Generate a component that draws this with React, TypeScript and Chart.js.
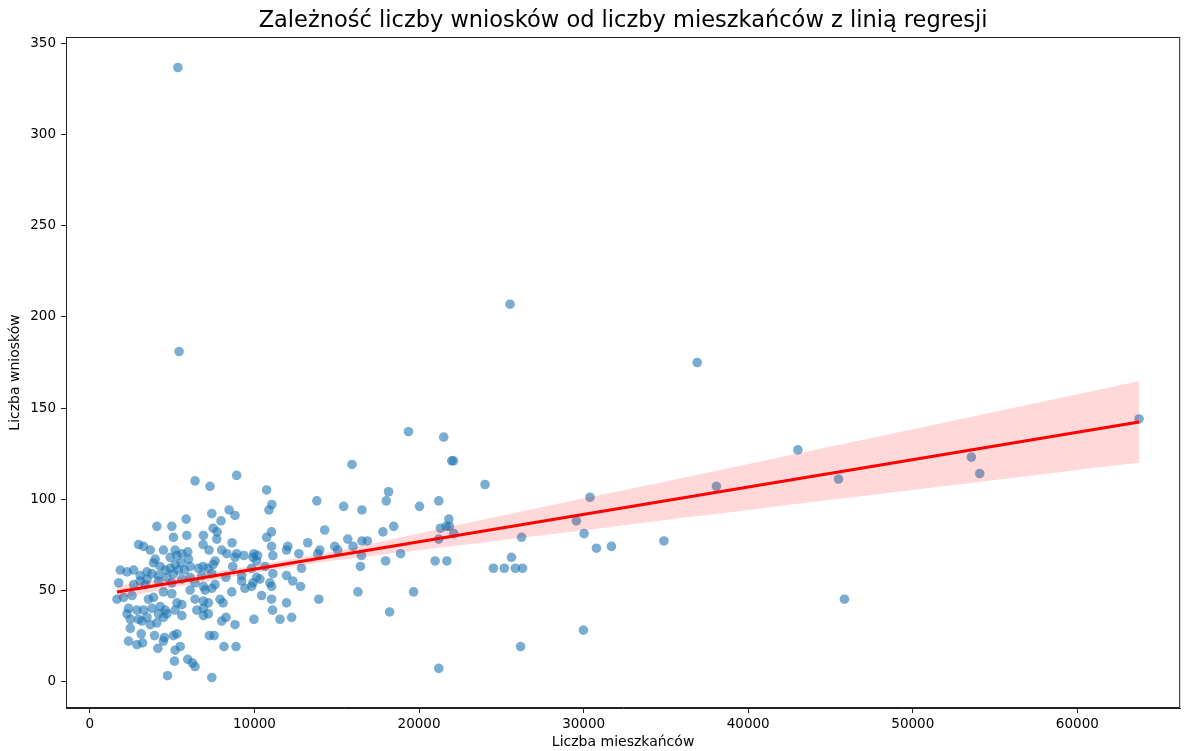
import { useEffect, useRef } from "react";
import { Chart, registerables } from "chart.js";

Chart.register(...registerables);

const titleText = "Zależność liczby wniosków od liczby mieszkańców z linią regresji";
const xAxisLabel = "Liczba mieszkańców";
const yAxisLabel = "Liczba wniosków";

const xTicks = [0, 10000, 20000, 30000, 40000, 50000, 60000];
const yTicks = [0, 50, 100, 150, 200, 250, 300, 350];

// population (x) of each municipality
const populationX = [
  5850, 4070, 4980, 5080, 5890, 6900, 2960, 3260, 3670, 4470, 5180, 5950, 6880, 3970, 3870, 4880,
  5290, 5590, 5990, 5550, 5180, 4270, 3470, 3060, 3770, 4170, 4580, 4880, 5080, 5380, 5750, 6090,
  6590, 1850, 2260, 2660, 1750, 3060, 3470, 4170, 4680, 4980, 5590, 6090, 6390, 6800, 2660, 3360,
  6900, 1650, 2050, 2560, 3560, 3870, 4470, 4980, 6090, 6390, 6900, 5290, 2350, 2860, 3260, 3770,
  4270, 4580, 5180, 5590, 6500, 6900, 2460, 2960, 3470, 4170, 4470, 4680, 5590, 2260, 3160, 3670,
  4070, 2460, 3120, 3930, 4530, 5080, 5290, 2350, 2860, 3200, 4470, 4130, 5180, 5490, 5140, 5950,
  6230, 6390, 4720, 7300, 7410, 7490, 7730, 7710, 7240, 7610, 7490, 6880, 7180, 7410, 7000, 7410,
  7610, 7910, 7200, 6900, 7200, 7260, 7550, 7410, 8010, 8270, 8920, 10740, 11060, 10880, 13790, 15420,
  8460, 8820, 7970, 14270, 11040, 10740, 8640, 13240, 15670, 11040, 12030, 11950, 12700, 13970, 14880, 15060,
  11120, 9970, 9360, 8920, 8820, 8320, 8010, 10190, 10130, 9910, 13850, 12860, 10640, 9830, 9220, 8680,
  8270, 11120, 10130, 10330, 11950, 12330, 9910, 9220, 9420, 9830, 10940, 11040, 12800, 10440, 11040, 11950,
  13910, 8620, 8090, 11100, 11550, 12260, 9970, 8820, 8150, 8880, 19360, 21500, 15930, 21990, 22090, 24010,
  18150, 18010, 21200, 16530, 20030, 18460, 17810, 21810, 21300, 21650, 21850, 22110, 21200, 16530, 16860, 15990,
  16500, 18880, 16440, 17970, 20980, 21690, 24520, 16290, 19670, 18210, 21200, 25530, 30390, 29560, 26230, 30030,
  30780, 31690, 34880, 25620, 25180, 25850, 26290, 29990, 26170, 36900, 38070, 43020, 45490, 45850, 53560, 54070,
  63750, 5350, 5420, 6390,
];

// number of applications (y) of each municipality
const applicationsY = [
  89, 85, 85, 79, 80, 80, 75, 74, 72, 72, 72, 71, 75, 67, 65, 68,
  69, 70, 67, 65, 64, 63, 60, 58, 59, 58, 61, 62, 59, 61, 61, 63,
  62, 61, 60, 61, 54, 55, 56, 55, 57, 54, 56, 57, 54, 58, 53, 53,
  52, 45, 46, 47, 45, 46, 49, 48, 50, 45, 44, 43, 40, 39, 39, 40,
  41, 39, 39, 42, 39, 36, 34, 34, 35, 37, 35, 37, 36, 37, 33, 31,
  32, 29, 26, 25, 24, 25, 26, 22, 20, 21, 22, 18, 17, 19, 11, 12,
  10, 8, 3, 107, 92, 84, 82, 78, 72, 66, 64, 63, 62, 59, 50, 51,
  53, 45, 43, 40, 37, 25, 25, 2, 33, 35, 113, 105, 97, 94, 99, 96,
  94, 91, 88, 83, 82, 79, 76, 76, 78, 74, 74, 72, 70, 72, 74, 72,
  69, 70, 69, 70, 68, 70, 72, 69, 66, 68, 70, 62, 63, 62, 58, 63,
  57, 59, 57, 56, 58, 55, 54, 55, 51, 52, 54, 52, 52, 47, 45, 43,
  45, 49, 43, 39, 34, 35, 34, 31, 19, 19, 137, 134, 119, 121, 121, 108,
  104, 99, 99, 94, 96, 85, 82, 89, 84, 85, 85, 81, 78, 77, 77, 74,
  69, 70, 63, 66, 66, 66, 62, 49, 49, 38, 7, 207, 101, 88, 79, 81,
  73, 74, 77, 68, 62, 62, 62, 28, 19, 175, 107, 127, 111, 45, 123, 114,
  144, 337, 181, 110,
];

// regression line end points
const lineX = [1650, 63750];
const lineY = [48.9, 142.3];

// confidence band
const bandX = [1650, 5000, 10000, 15000, 20000, 25000, 30000, 35000, 40000, 45000, 50000, 55000, 60000, 63750];
const bandUpper = [52.3, 56.6, 63.5, 71.6, 81.1, 90.8, 100.4, 109.7, 119.2, 128.8, 138.4, 148.0, 157.6, 164.7];
const bandLower = [45.4, 51.2, 59.5, 66.4, 71.9, 77.4, 82.8, 88.5, 94.0, 99.6, 105.0, 110.4, 116.0, 119.9];

const FONT = '"DejaVu Sans", sans-serif';

export default function App() {
  const ref = useRef<HTMLCanvasElement | null>(null);

  useEffect(() => {
    const canvas = ref.current;
    if (!canvas) return;

    const decor = {
      id: "decor",
      afterDraw(chart: any) {
        const { ctx, chartArea } = chart;
        const { left, right, top, bottom } = chartArea;
        ctx.save();
        ctx.strokeStyle = "#222";
        ctx.lineWidth = 1;
        ctx.strokeRect(left + 0.5, top + 0.5, right - left - 1, bottom - top - 1);
        ctx.fillStyle = "#000";
        ctx.textAlign = "center";
        ctx.textBaseline = "middle";
        ctx.font = `22.5px ${FONT}`;
        ctx.fillText(titleText, (left + right) / 2, 21);
        ctx.font = `14px ${FONT}`;
        ctx.fillText(xAxisLabel, (left + right) / 2, 742);
        ctx.translate(15, (top + bottom) / 2);
        ctx.rotate(-Math.PI / 2);
        ctx.fillText(yAxisLabel, 0, 0);
        ctx.restore();
      },
    };

    const chart = new Chart(canvas, {
      type: "scatter",
      data: {
        datasets: [
          {
            type: "line",
            label: "regresja",
            data: lineX.map((x, i) => ({ x, y: lineY[i] })),
            borderColor: "#ff0000",
            borderWidth: 3,
            pointRadius: 0,
            fill: false,
            order: 0,
          } as any,
          {
            type: "line",
            label: "upper",
            data: bandX.map((x, i) => ({ x, y: bandUpper[i] })),
            borderWidth: 0,
            borderColor: "rgba(0,0,0,0)",
            backgroundColor: "rgba(255,0,0,0.15)",
            pointRadius: 0,
            fill: "+1",
            tension: 0.3,
            order: 1,
          } as any,
          {
            type: "line",
            label: "lower",
            data: bandX.map((x, i) => ({ x, y: bandLower[i] })),
            borderWidth: 0,
            borderColor: "rgba(0,0,0,0)",
            pointRadius: 0,
            fill: false,
            tension: 0.3,
            order: 1,
          } as any,
          {
            label: "gminy",
            data: populationX.map((x, i) => ({ x, y: applicationsY[i] })),
            backgroundColor: "rgba(31,119,180,0.6)",
            borderWidth: 0,
            pointRadius: 4.8,
            order: 3,
          },
        ],
      },
      options: {
        responsive: false,
        animation: false,
        devicePixelRatio: 1,
        layout: { padding: { top: 37, right: -3, left: 0, bottom: 0 } },
        plugins: {
          legend: { display: false },
          tooltip: { enabled: false },
          title: { display: false },
        },
        scales: {
          x: {
            type: "linear",
            min: -1450,
            max: 66250,
            afterBuildTicks: (axis: any) => {
              axis.ticks = xTicks.map((v) => ({ value: v }));
            },
            afterFit: (axis: any) => {
              axis.height = 43;
            },
            grid: { drawOnChartArea: false, drawTicks: true, tickLength: 5, color: "#222" },
            border: { display: true, color: "#222", width: 1 },
            ticks: {
              color: "#000",
              font: { family: FONT, size: 13.5 },
              padding: 3,
              maxRotation: 0,
              autoSkip: false,
              callback: (v: any) => String(v),
            },
          },
          y: {
            type: "linear",
            min: -14.75,
            max: 353.75,
            afterBuildTicks: (axis: any) => {
              axis.ticks = yTicks.map((v) => ({ value: v }));
            },
            afterFit: (axis: any) => {
              axis.width = 66;
            },
            grid: { drawOnChartArea: false, drawTicks: true, tickLength: 5, color: "#222" },
            border: { display: true, color: "#222", width: 1 },
            ticks: {
              color: "#000",
              font: { family: FONT, size: 13.5 },
              padding: 5,
              autoSkip: false,
              callback: (v: any) => String(v),
            },
          },
        },
      } as any,
      plugins: [decor],
    });

    return () => chart.destroy();
  }, []);

  return (
    <div style={{ position: "fixed", left: 0, top: 0, width: 1185, height: 751, background: "#fff" }}>
      <canvas ref={ref} width={1185} height={751} />
    </div>
  );
}
